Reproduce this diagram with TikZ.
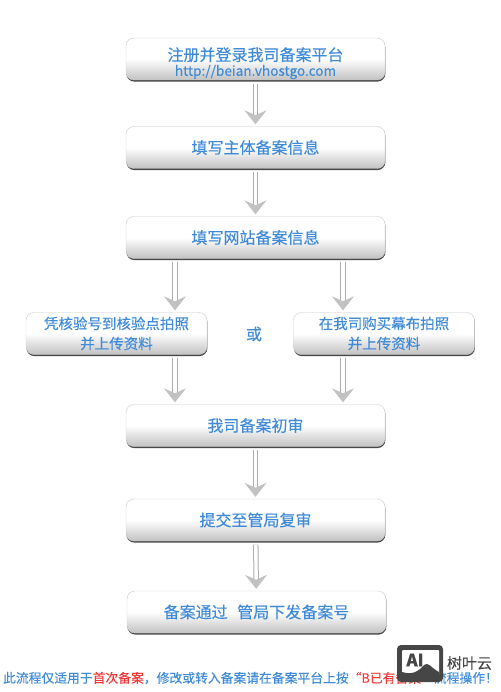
\documentclass[tikz,border=0pt]{standalone}
\usepackage{fontspec}
\setmainfont[FakeBold=0.25]{Noto Sans CJK SC}
\usepackage{tikz}
\usetikzlibrary{arrows.meta, positioning, shadows}
\definecolor{flow-blue}{HTML}{3F8BD8}
\definecolor{note-red}{HTML}{EE3A3A}
\definecolor{mark-grey}{HTML}{464646}
\tikzset{
  flowbox/.style={draw=black!20, rounded corners=8pt, top color=white, bottom color=black!24,
    middle color=white, shading angle=0, text=flow-blue, align=center, font=\fontsize{16}{18}\selectfont,
    minimum height=42pt, inner sep=0pt,
    drop shadow={shadow xshift=0.4pt, shadow yshift=-1.6pt, fill=black!80, opacity=0.9}},
  widebox/.style={flowbox, minimum width=259pt},
  sidebox/.style={flowbox, minimum width=181pt, font=\fontsize{14.5}{20}\selectfont},
  flowarrow/.style={draw=black!32, double=white, double distance=3.4pt, line width=1pt,
    shorten >=2pt, shorten <=3.5pt,
    -{Stealth[length=14pt, width=22pt, inset=5pt, fill=black!24, color=black!24]}}
}
\begin{document}
\begin{tikzpicture}[x=1pt, y=-1pt]
  \useasboundingbox (0,0) rectangle (500,692);
  \node[widebox] (register) at (255.5,59) {\rule{0pt}{22pt}注册并登录我司备案平台\\[-3pt]{\fontsize{13.6}{14}\selectfont http://beian.vhostgo.com}};
  \node[widebox] (subject) at (255.5,147.5) {\raisebox{0.8pt}{填写主体备案信息}};
  \node[widebox] (website) at (255.5,237.5) {\raisebox{0.8pt}{填写网站备案信息}};
  \node[sidebox] (verify) at (116.5,333.5) {凭核验号到核验点拍照\\并上传资料};
  \node[sidebox] (curtain) at (384,333.5) {在我司购买幕布拍照\\并上传资料};
  \node[text=flow-blue, font=\fontsize{16}{18}\selectfont] (either) at (254,334) {或};
  \node[widebox] (firstcheck) at (255.5,425.5) {我司备案初审};
  \node[widebox] (bureau) at (255.5,520) {提交至管局复审};
  \node[widebox] (approved) at (256.5,612) {备案通过\hspace{0.6em}管局下发备案号};
  % forks sit off the box centres
  \coordinate (leftfork) at (175,0);
  \coordinate (rightfork) at (343,0);
  \draw[flowarrow] (register) -- (subject);
  \draw[flowarrow] (subject) -- (website);
  \draw[flowarrow] (website.south -| leftfork) -- (verify.north -| leftfork);
  \draw[flowarrow] (website.south -| rightfork) -- (curtain.north -| rightfork);
  \draw[flowarrow] (verify.south -| leftfork) -- (firstcheck.north -| leftfork);
  \draw[flowarrow] (curtain.south -| rightfork) -- (firstcheck.north -| rightfork);
  \draw[flowarrow] (firstcheck) -- (bureau);
  \draw[flowarrow] (bureau) -- (approved);
  \node[font=\fontsize{12.8}{14}\selectfont, text=flow-blue, inner sep=0pt] (note) at (250.5,678)
    {此流程仅适用于\textcolor{note-red}{首次备案}，修改或转入备案请在备案平台上按\textcolor{note-red}{“B已有备案”}流程操作！};
  % watermark over the note
  \fill[mark-grey, rounded corners=4pt] (397,645) rectangle (443,682);
  \fill[white, rounded corners=1pt] (402,650) rectangle (439,675);
  \node[mark-grey, font=\bfseries\fontsize{17}{17}\selectfont, inner sep=0pt] (marktext) at (415,660) {AI};
  \fill[mark-grey] (402,676) -- (402,672) .. controls (412,675) and (418,672) .. (424,665)
    .. controls (428,661) and (431,668) .. (439,672) -- (439,676) -- cycle;
  \node[mark-grey, font=\fontsize{15}{15}\selectfont, inner sep=0pt] (markname) at (469.5,663) {树叶云};
\end{tikzpicture}
\end{document}
